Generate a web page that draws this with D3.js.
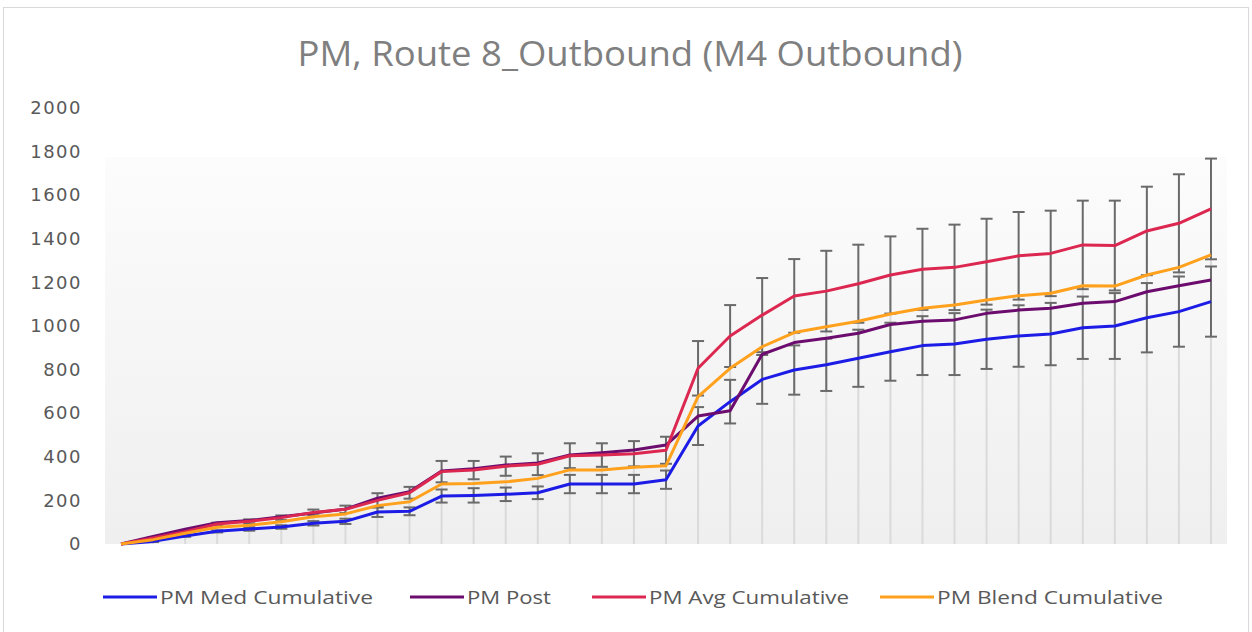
<!DOCTYPE html>
<html>
<head>
<meta charset="utf-8">
<script src="https://cdn.jsdelivr.net/npm/d3@7"></script>
<style>
  html, body { margin: 0; padding: 0; background: #fff; }
  svg { display: block; }
</style>
</head>
<body>
<div id="chart"></div>
<script>
const titleText = 'PM, Route 8_Outbound (M4 Outbound)';
const stops = d3.range(1, 36);
const yTicks = [0, 200, 400, 600, 800, 1000, 1200, 1400, 1600, 1800, 2000];

const medCumulative = [0, 12, 37, 58, 69, 78, 95, 104, 147, 150, 220, 223, 228, 235, 275, 275, 275, 295,
  541, 653, 755, 798, 822, 852, 882, 910, 917, 939, 954, 963, 992, 1000, 1038, 1066, 1112];
const medError = [0, 3, 4, 5, 8, 8, 10, 12, 23, 18, 30, 33, 31, 29, 42, 42, 42, 42,
  87, 100, 112, 113, 120, 131, 133, 135, 142, 136, 141, 143, 143, 151, 159, 161, 161];
const postValues = [0, 35, 68, 98, 108, 125, 142, 160, 210, 240, 335, 345, 362, 372, 408, 419, 431, 454,
  587, 611, 870, 924, 944, 967, 1007, 1022, 1028, 1058, 1073, 1081, 1104, 1112, 1157, 1185, 1211];
const avgCumulative = [0, 28, 56, 92, 104, 121, 145, 159, 200, 235, 332, 339, 357, 366, 405, 408, 414, 430,
  806, 954, 1050, 1138, 1160, 1194, 1234, 1260, 1269, 1295, 1322, 1333, 1372, 1369, 1436, 1471, 1537];
const avgError = [0, 3, 5, 6, 9, 10, 13, 17, 33, 27, 49, 42, 44, 50, 57, 54, 58, 62,
  125, 142, 170, 169, 185, 179, 177, 186, 196, 197, 201, 196, 203, 206, 203, 225, 231];
const blendCumulative = [0, 20, 49, 77, 86, 102, 125, 138, 176, 194, 275, 277, 285, 301, 340, 340, 352, 359,
  676, 806, 905, 970, 997, 1022, 1055, 1081, 1096, 1119, 1139, 1150, 1185, 1183, 1234, 1269, 1326];

const series = [
  { name: 'PM Med Cumulative', values: medCumulative, errors: medError, color: '#1c1ce6', legendX: 103, textLen: 213 },
  { name: 'PM Post', values: postValues, errors: null, color: '#6c0c6e', legendX: 410, textLen: 84 },
  { name: 'PM Avg Cumulative', values: avgCumulative, errors: avgError, color: '#dc2851', legendX: 592, textLen: 200 },
  { name: 'PM Blend Cumulative', values: blendCumulative, errors: null, color: '#ffa11c', legendX: 880, textLen: 226 }
];

const width = 1252;
const height = 632;
const plot = { left: 105, right: 1227, top: 108, bottom: 544 };

const svg = d3.select('#chart').append('svg').attr('width', width).attr('height', height);

const defs = svg.append('defs');
const grad = defs.append('linearGradient').attr('id', 'plotBg').attr('x1', 0).attr('y1', 0).attr('x2', 0).attr('y2', 1);
grad.append('stop').attr('offset', '0%').attr('stop-color', '#fcfcfc');
grad.append('stop').attr('offset', '100%').attr('stop-color', '#efefef');

svg.append('rect').attr('width', width).attr('height', height).attr('fill', '#fff');
svg.append('rect')
  .attr('x', 3.5).attr('y', 7.5).attr('width', 1245).attr('height', 640)
  .attr('fill', 'none').attr('stroke', '#d9d9d9').attr('stroke-width', 1);

const x = d3.scalePoint().domain(stops).range([plot.left, plot.right]).padding(0.5);
const y = d3.scaleLinear().domain([0, 2000]).range([plot.bottom, plot.top]);

svg.append('rect')
  .attr('x', plot.left).attr('y', y(1775))
  .attr('width', plot.right - plot.left).attr('height', plot.bottom - y(1775))
  .attr('fill', 'url(#plotBg)');

// title
svg.append('text')
  .attr('x', 630).attr('y', 66)
  .attr('text-anchor', 'middle')
  .attr('font-family', 'Open Sans, sans-serif')
  .attr('font-size', 34)
  .attr('fill', '#7f7f7f')
  .attr('textLength', 665)
  .attr('lengthAdjust', 'spacingAndGlyphs')
  .text(titleText);

// y axis labels only
const yAxis = svg.append('g')
  .attr('transform', `translate(${plot.left - 23},0)`)
  .call(d3.axisLeft(y).tickValues(yTicks).tickFormat(d3.format('d')).tickSize(0).tickPadding(0));
yAxis.select('.domain').remove();
yAxis.selectAll('text')
  .attr('font-family', 'DejaVu Sans, sans-serif')
  .attr('font-size', 18)
  .attr('letter-spacing', 1.5)
  .attr('fill', '#595959');

// drop lines
const maxAt = stops.map((s, i) => d3.max(series, d => d.values[i]));
svg.append('g')
  .selectAll('line')
  .data(stops)
  .join('line')
  .attr('x1', d => x(d)).attr('x2', d => x(d))
  .attr('y1', (d, i) => y(maxAt[i])).attr('y2', y(0))
  .attr('stroke', '#dadada').attr('stroke-width', 2);

// error bars
const capHalf = 6;
series.filter(s => s.errors).forEach(s => {
  const g = svg.append('g').attr('stroke', '#6a6a6a').attr('stroke-width', 2);
  stops.forEach((st, i) => {
    const e = s.errors[i];
    if (!e) {
      return;
    }
    const cx = x(st);
    const hi = y(s.values[i] + e);
    const lo = y(Math.max(0, s.values[i] - e));
    g.append('line').attr('x1', cx).attr('x2', cx).attr('y1', hi).attr('y2', lo);
    g.append('line').attr('x1', cx - capHalf).attr('x2', cx + capHalf).attr('y1', hi).attr('y2', hi);
    g.append('line').attr('x1', cx - capHalf).attr('x2', cx + capHalf).attr('y1', lo).attr('y2', lo);
  });
});

// lines
const line = d3.line().x((d, i) => x(stops[i])).y(d => y(d));
series.forEach(s => {
  svg.append('path')
    .datum(s.values)
    .attr('fill', 'none')
    .attr('stroke', s.color)
    .attr('stroke-width', 3)
    .attr('stroke-linejoin', 'round')
    .attr('d', line);
});

// legend
const legend = svg.append('g').attr('transform', 'translate(0,597)');
series.forEach(s => {
  legend.append('line')
    .attr('x1', s.legendX).attr('x2', s.legendX + 54)
    .attr('y1', 0).attr('y2', 0)
    .attr('stroke', s.color).attr('stroke-width', 3);
  legend.append('text')
    .attr('x', s.legendX + 57).attr('y', 7)
    .attr('font-family', 'Open Sans, sans-serif')
    .attr('font-size', 19)
    .attr('fill', '#595959')
    .attr('textLength', s.textLen)
    .attr('lengthAdjust', 'spacingAndGlyphs')
    .text(s.name);
});
</script>
</body>
</html>
